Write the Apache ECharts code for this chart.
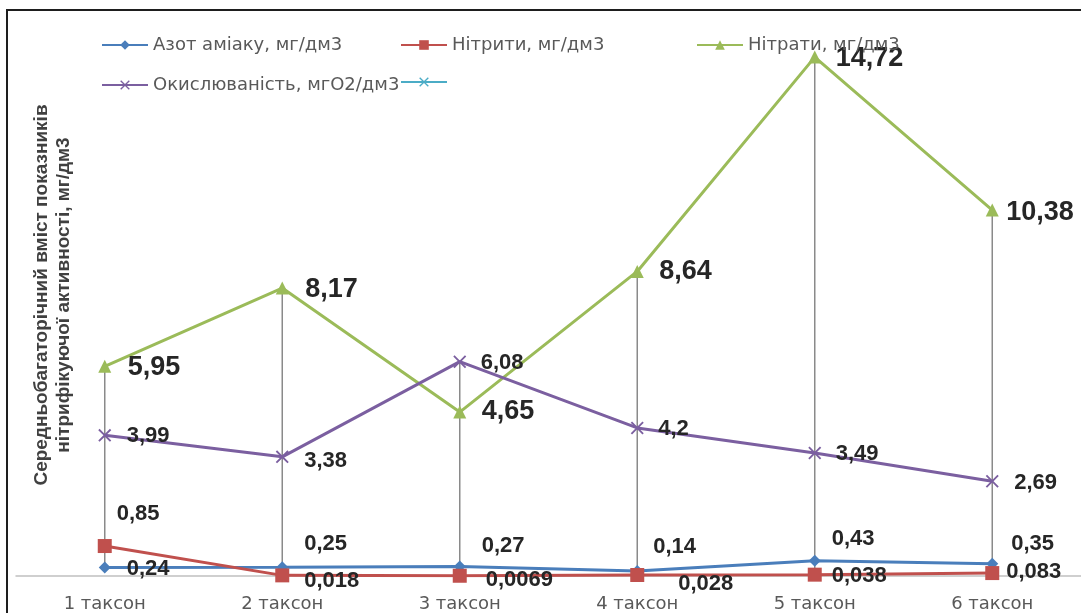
<!DOCTYPE html>
<html>
<head>
<meta charset="utf-8">
<script src="https://cdn.jsdelivr.net/npm/echarts@6/dist/echarts.min.js"></script>
<style>
  html, body { margin: 0; padding: 0; background: #fff; }
  #chart { width: 1081px; height: 613px; }
</style>
</head>
<body>
<div id="chart"></div>
<script>
// Categories and mean multi-year values per taxon
const categories = ['1 таксон', '2 таксон', '3 таксон', '4 таксон', '5 таксон', '6 таксон'];
const ammonia = [0.24, 0.25, 0.27, 0.14, 0.43, 0.35];
const nitrites = [0.85, 0.018, 0.0069, 0.028, 0.038, 0.083];
const nitrates = [5.95, 8.17, 4.65, 8.64, 14.72, 10.38];
const oxidizability = [3.99, 3.38, 6.08, 4.2, 3.49, 2.69];
const extraValues = [];

const seriesNames = ['Азот аміаку, мг/дм3', 'Нітрити, мг/дм3', 'Нітрати, мг/дм3', 'Окислюваність, мгО2/дм3', 'Ряд 5'];
const axisTitle = 'Середньобагаторічний вміст показників\nнітрифікуючої активності, мг/дм3';

// Label placement: [gap from marker centre to label's left edge, vertical shift]
const ammoniaShift = [[22, 1], [22, -23], [22, -21], [16, -24], [17, -22], [19, -20]];
const nitritesShift = [[12, -32], [22, 6], [26, 4], [41, 9], [17, 1], [14, -1]];
const nitratesShift = [[23, 1], [23, 2], [22, -1], [22, 0], [21, 1], [14, 2]];
const oxidShift = [[22, 1], [22, 4], [21, 1], [21, 1], [21, 1], [22, 2]];

const FONT = 'Liberation Sans, Arial, sans-serif';
const TEXT_FONT = 'DejaVu Sans, sans-serif';
const fmt = v => String(v).replace('.', ',');

function withLabels(values, shifts, size) {
  return values.map((v, i) => ({
    value: v,
    label: {
      offset: [shifts[i][0] - size / 2, shifts[i][1]]
    }
  }));
}

function lineSeries(name, values, shifts, color, symbol, size, fontSize) {
  return {
    name: name,
    type: 'line',
    data: withLabels(values, shifts, size),
    symbol: symbol,
    symbolSize: size,
    z: 3,
    lineStyle: { color: color, width: 3 },
    itemStyle: { color: color },
    label: {
      show: true,
      position: 'right',
      distance: 0,
      formatter: p => fmt(p.value),
      fontFamily: FONT,
      fontWeight: 'bold',
      fontSize: fontSize,
      color: '#262626'
    },
    emphasis: { disabled: true },
    animation: false
  };
}

// High-low lines: per category, from the smallest to the largest value
const allSeries = [ammonia, nitrites, nitrates, oxidizability];
const hiLo = categories.map((c, i) => {
  const vals = allSeries.map(s => s[i]);
  return [i, Math.min.apply(null, vals), Math.max.apply(null, vals)];
});

const crossPath = 'path://M0,1 L1,0 L5,4 L9,0 L10,1 L6,5 L10,9 L9,10 L5,6 L1,10 L0,9 L4,5 Z';

const chart = echarts.init(document.getElementById('chart'), null, { renderer: 'canvas' });

const legendBase = {
  orient: 'horizontal',
  padding: 0,
  itemWidth: 46,
  itemHeight: 12,
  itemGap: 0,
  selectedMode: false,
  textStyle: { fontFamily: TEXT_FONT, fontSize: 18, color: '#595959' }
};

chart.setOption({
  animation: false,
  backgroundColor: '#ffffff',
  grid: { left: 16, width: 1068, top: 12, bottom: 36, containLabel: false },
  legend: [
    Object.assign({}, legendBase, { data: [seriesNames[0]], left: 101, top: 36 }),
    Object.assign({}, legendBase, { data: [seriesNames[1]], left: 400, top: 36 }),
    Object.assign({}, legendBase, { data: [seriesNames[2]], left: 696, top: 36 }),
    Object.assign({}, legendBase, { data: [seriesNames[3]], left: 101, top: 76 }),
    Object.assign({}, legendBase, { data: [seriesNames[4]], left: 400, top: 76, formatter: () => '' })
  ],
  xAxis: {
    type: 'category',
    data: categories,
    boundaryGap: true,
    axisLine: { show: true, lineStyle: { color: '#c0c0c0', width: 1.5 } },
    axisTick: { show: false },
    axisLabel: { fontFamily: TEXT_FONT, fontSize: 18, color: '#595959', margin: 19 },
    splitLine: { show: false }
  },
  yAxis: {
    type: 'value',
    min: 0,
    max: 16,
    axisLine: { show: false },
    axisTick: { show: false },
    axisLabel: { show: false },
    splitLine: { show: false }
  },
  graphic: [
    {
      type: 'rect',
      shape: { x: 7, y: 10, width: 1200, height: 800 },
      style: { fill: 'none', stroke: '#1e1e1e', lineWidth: 2 },
      z: 100,
      silent: true
    },
    {
      type: 'text',
      x: 53,
      y: 295,
      rotation: Math.PI / 2,
      style: {
        text: axisTitle,
        align: 'center',
        verticalAlign: 'middle',
        font: 'bold 19px ' + FONT,
        lineHeight: 22,
        fill: '#404040'
      },
      silent: true
    }
  ],
  series: [
    {
      name: 'hilo',
      type: 'custom',
      data: hiLo,
      z: 1,
      silent: true,
      renderItem: (params, api) => {
        const top = api.coord([api.value(0), api.value(2)]);
        const bottom = api.coord([api.value(0), api.value(1)]);
        return {
          type: 'line',
          shape: { x1: top[0], y1: top[1], x2: bottom[0], y2: bottom[1] },
          style: { stroke: '#8a8a8a', lineWidth: 1.5 }
        };
      },
      animation: false
    },
    lineSeries(seriesNames[0], ammonia, ammoniaShift, '#4a7ebb', 'diamond', 12, 22),
    lineSeries(seriesNames[1], nitrites, nitritesShift, '#c0504d', 'rect', 14, 22),
    lineSeries(seriesNames[2], nitrates, nitratesShift, '#9bbb59', 'triangle', 13, 27),
    lineSeries(seriesNames[3], oxidizability, oxidShift, '#7b5fa0', crossPath, 13, 22),
    {
      name: seriesNames[4],
      type: 'line',
      data: extraValues,
      symbol: crossPath,
      symbolSize: 10,
      lineStyle: { color: '#4bacc6', width: 3 },
      itemStyle: { color: '#4bacc6' },
      animation: false
    }
  ]
});
</script>
</body>
</html>
